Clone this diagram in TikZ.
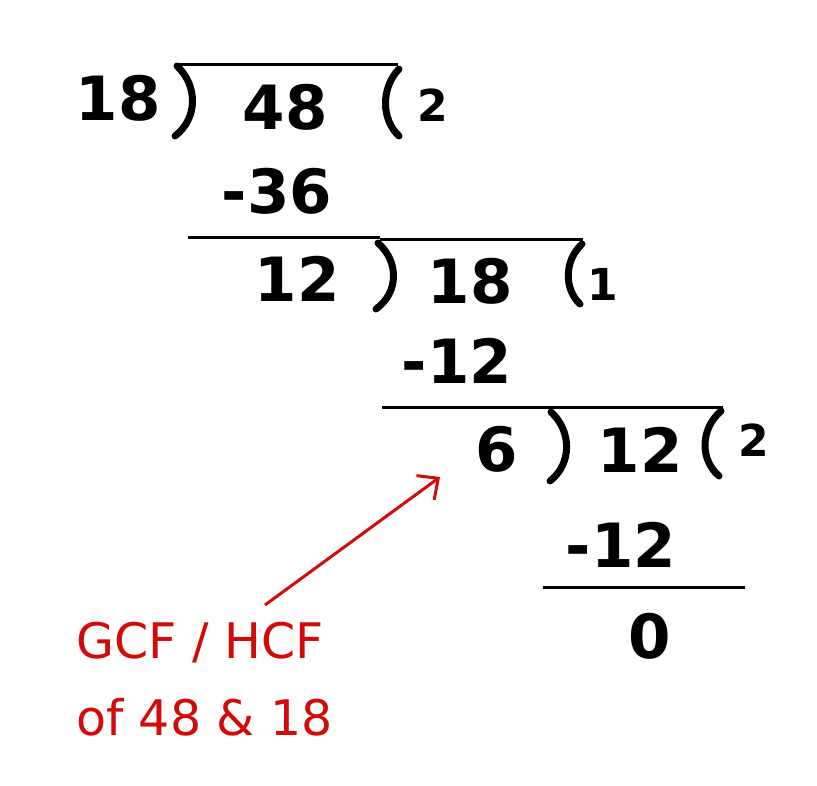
\documentclass[tikz,border=0pt]{standalone}
\usepackage{fontspec}
\setmainfont{DejaVu Sans}
\usepackage{tikz}
\usetikzlibrary{arrows.meta}
\definecolor{penred}{RGB}{210,10,10}
\def\rbrk(#1,#2)(#3,#4)(#5){\draw[brk] (#1,#2) .. controls (#5,{#2+(#4-#2)*0.28}) and (#5,{#2+(#4-#2)*0.75}) .. (#3,#4);}
\tikzset{
  big/.style={inner sep=0pt, font=\bfseries\fontsize{61}{61}\selectfont},
  quot/.style={inner sep=0pt, font=\bfseries\fontsize{44}{44}\selectfont},
  note/.style={inner sep=0pt, anchor=west, text=penred, font=\fontsize{49}{49}\selectfont},
  bar/.style={line width=3pt},
  brk/.style={line width=7pt, line cap=round},
}

\begin{document}
\begin{tikzpicture}[x=1pt, y=-1pt]
		%%%%% START %%%%%
		\useasboundingbox (0,0) rectangle (817,786);
		
		% first step
		\node[big] (d1) at (118,98) {18};
		\node[big] (n1) at (285,107) {48};
		\node[quot] (q1) at (433,105) {2};
		\rbrk(177,66)(175,136)(198);
		\rbrk(399,69)(399,136)(381);
		\draw[bar] (177,65) -- (398,65);
		\node[big] (s1) at (277,191) {-36};
		\draw[bar] (188,238) -- (380,238);
		
		% second step
		\node[big] (d2) at (297,279) {12};
		\node[big] (n2) at (470,281) {18};
		\node[quot] (q2) at (603,284) {1};
		\rbrk(378,243)(376,309)(399);
		\rbrk(582,244)(580,304)(564);
		\draw[bar] (380,240) -- (583,240);
		\node[big] (s2) at (457,361) {-12};
		\draw[bar] (382,407) -- (723,407);
		
		% third step
		\node[big] (d3) at (497,449) {6};
		\node[big] (n3) at (640,450) {12};
		\node[quot] (q3) at (754,440) {2};
		\rbrk(551,412)(550,481)(572);
		\rbrk(721,411)(719,476)(700);
		\node[big] (s3) at (621,545) {-12};
		\draw[bar] (543,587) -- (745,587);
		\node[big] (r3) at (650,636) {0};
		
		% answer
		\node[note] (gcf) at (76,643) {GCF / HCF};
		\node[note] (of) at (76,717) {of 48 \& 18};
		\coordinate (tail) at (265,605);
		\coordinate (tip) at (440,477);
		\draw[penred, line width=3pt, -{Straight Barb[length=16pt,width=30pt]}] (tail) -- (tip);
		%%%%% END %%%%%
	\end{tikzpicture}
\end{document}
